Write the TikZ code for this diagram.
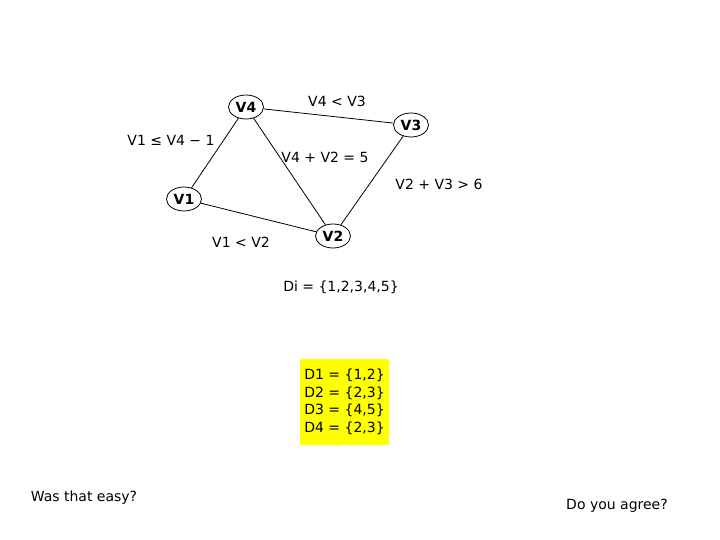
\documentclass[tikz,border=0pt]{standalone}
\usepackage{fontspec}
\setmainfont{DejaVu Sans}
\usetikzlibrary{shapes.geometric}
\definecolor{boxyellow}{RGB}{255,255,0}
\begin{document}
\begin{tikzpicture}[x=1pt,y=-1pt,line width=0.8pt,
  vnode/.style={draw,ellipse,inner sep=0pt,minimum width=35pt,minimum height=24pt,font=\fontsize{14}{16}\selectfont\bfseries},
  lbl/.style={font=\fontsize{14}{16}\selectfont},
  big/.style={font=\fontsize{14}{17.5}\selectfont}]
\useasboundingbox (0,0) rectangle (720,540);
\node[vnode] (v4) at (246,107) {V4};
\node[vnode] (v3) at (411,125) {V3};
\node[vnode] (v1) at (184,199) {V1};
\node[vnode] (v2) at (333,236) {V2};
\draw (v4) -- (v3);
\draw (v4) -- (v1);
\draw (v4) -- (v2);
\draw (v1) -- (v2);
\draw (v3) -- (v2);
\node[lbl] (l43) at (337,101) {V4 < V3};
\node[lbl] (l14) at (171,140) {V1 ≤ V4 − 1};
\node[lbl] (l42) at (325,157) {V4 + V2 = 5};
\node[lbl] (l23) at (439,184) {V2 + V3 > 6};
\node[lbl] (l12) at (241,242) {V1 <  V2};
\node[big] (di) at (341,287) {Di = \{1,2,3,4,5\}};
\node[fill=boxyellow,minimum width=89pt,minimum height=86pt,inner sep=0pt,align=left,big] (dom) at (344.5,402) {D1 = \{1,2\}\\D2 = \{2,3\}\\D3 = \{4,5\}\\D4 = \{2,3\}};
\node[big] (q1) at (84,498) {Was that easy?};
\node[big] (q2) at (617,506) {Do you agree?};
\end{tikzpicture}
\end{document}
